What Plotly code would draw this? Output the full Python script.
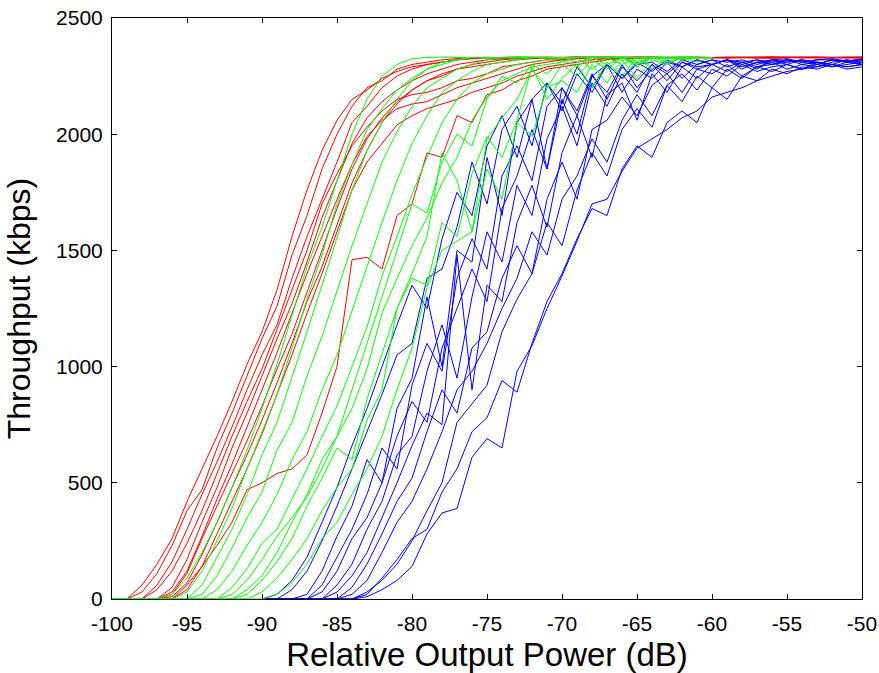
import plotly.graph_objects as go

# ---------------- data ----------------
x_red = [-100, -99, -98, -97, -96, -95, -94, -93, -92, -91,
         -90, -89, -88, -87, -86, -85, -84, -83, -82, -81,
         -80, -79, -78, -77, -76, -75, -74, -73, -72, -71,
         -70, -69, -68, -67, -66, -65, -64, -63, -62, -61,
         -60, -59, -58, -57, -56, -55, -54, -53, -52, -51, -50]

x_green = [-100, -99, -98, -97, -96, -95, -94, -93, -92, -91,
           -90, -89, -88, -87, -86, -85, -84, -83, -82, -81,
           -80, -79, -78, -77, -76, -75, -74, -73, -72, -71,
           -70, -69, -68, -67, -66, -65, -64, -63, -62, -61, -60]

x_blue = [-90, -89, -88, -87, -86, -85, -84, -83, -82, -81,
          -80, -79, -78, -77, -76, -75, -74, -73, -72, -71,
          -70, -69, -68, -67, -66, -65, -64, -63, -62, -61,
          -60, -59, -58, -57, -56, -55, -54, -53, -52, -51, -50]

red_1 = [0, 0, 60, 150, 260, 420, 560, 700, 850, 1010,
         1150, 1330, 1560, 1760, 1930, 2060, 2150, 2190, 2240, 2270,
         2290, 2300, 2310, 2320, 2325, 2330, 2325, 2330, 2330, 2328,
         2330, 2332, 2330, 2328, 2330, 2332, 2330, 2330, 2328, 2330,
         2330, 2332, 2330, 2328, 2330, 2330, 2332, 2330, 2330, 2328, 2330]
red_2 = [0, 0, 30, 110, 230, 380, 470, 650, 800, 960,
         1120, 1260, 1480, 1650, 1850, 2000, 2120, 2200, 2230, 2280,
         2300, 2310, 2320, 2325, 2330, 2328, 2330, 2332, 2330, 2330,
         2328, 2330, 2330, 2332, 2330, 2328, 2330, 2330, 2332, 2330,
         2330, 2328, 2330, 2330, 2332, 2330, 2328, 2330, 2330, 2330, 2332]
red_3 = [0, 0, 0, 60, 160, 300, 450, 590, 740, 900,
         1050, 1180, 1380, 1560, 1720, 1880, 2050, 2120, 2200, 2250,
         2280, 2300, 2310, 2320, 2325, 2330, 2328, 2330, 2330, 2332,
         2330, 2330, 2328, 2330, 2332, 2330, 2330, 2328, 2330, 2330,
         2332, 2330, 2330, 2328, 2330, 2330, 2332, 2330, 2330, 2328, 2330]
red_4 = [0, 0, 0, 40, 120, 240, 380, 540, 700, 850,
         990, 1160, 1330, 1500, 1700, 1830, 1950, 2030, 2100, 2150,
         2170, 2180, 2200, 2230, 2240, 2260, 2290, 2300, 2310, 2320,
         2320, 2325, 2330, 2328, 2330, 2330, 2332, 2330, 2328, 2330,
         2330, 2332, 2330, 2330, 2328, 2330, 2330, 2332, 2330, 2330, 2328]
red_5 = [0, 0, 0, 0, 50, 170, 330, 480, 650, 800,
         960, 1120, 1270, 1450, 1640, 1800, 1960, 2070, 2140, 2190,
         2230, 2260, 2280, 2300, 2310, 2320, 2325, 2330, 2328, 2330,
         2330, 2332, 2330, 2328, 2330, 2330, 2332, 2330, 2330, 2328,
         2330, 2330, 2332, 2330, 2328, 2330, 2330, 2332, 2330, 2330, 2328]
red_6 = [0, 0, 0, 0, 30, 120, 270, 430, 580, 740,
         900, 1060, 1230, 1400, 1560, 1720, 1870, 1990, 2060, 2110,
         2130, 2140, 2170, 2200, 2220, 2240, 2260, 2280, 2300, 2310,
         2320, 2325, 2330, 2328, 2330, 2330, 2332, 2330, 2328, 2330,
         2330, 2332, 2330, 2330, 2328, 2330, 2330, 2332, 2330, 2330, 2330]
red_7 = [0, 0, 0, 0, 20, 110, 260, 400, 540, 680,
         830, 990, 1140, 1320, 1500, 1680, 1850, 1980, 2070, 2140,
         2190, 2230, 2260, 2280, 2300, 2310, 2320, 2325, 2330, 2328,
         2330, 2330, 2332, 2330, 2328, 2330, 2330, 2332, 2330, 2330,
         2328, 2330, 2330, 2332, 2330, 2330, 2328, 2330, 2330, 2332, 2330]
red_8 = [0, 0, 0, 0, 10, 70, 190, 330, 480, 620,
         770, 930, 1100, 1280, 1430, 1610, 1790, 1930, 2050, 2130,
         2190, 2230, 2250, 2280, 2290, 2300, 2310, 2320, 2325, 2330,
         2328, 2330, 2330, 2332, 2330, 2328, 2330, 2330, 2332, 2330,
         2330, 2328, 2330, 2330, 2332, 2330, 2330, 2328, 2330, 2330, 2332]
red_9 = [0, 0, 0, 0, 0, 40, 140, 280, 420, 560,
         710, 880, 1050, 1230, 1400, 1580, 1760, 1880, 1960, 2040,
         2080, 2110, 2130, 2150, 2180, 2200, 2220, 2250, 2270, 2290,
         2300, 2310, 2320, 2325, 2330, 2328, 2330, 2330, 2332, 2330,
         2330, 2328, 2330, 2330, 2332, 2330, 2330, 2328, 2330, 2330, 2330]
red_10 = [0, 0, 0, 0, 0, 60, 140, 230, 330, 470,
          500, 540, 560, 620, 800, 1000, 1460, 1470, 1420, 1650,
          1700, 1920, 1900, 2080, 2050, 2170, 2190, 2230, 2250, 2280,
          2290, 2300, 2310, 2320, 2325, 2330, 2328, 2330, 2330, 2332,
          2330, 2330, 2328, 2330, 2330, 2332, 2330, 2330, 2328, 2330, 2330]

green_1 = [0, 0, 0, 0, 20, 90, 200, 330, 480, 640,
           820, 1010, 1220, 1430, 1600, 1800, 2000, 2150, 2250, 2300,
           2325, 2330, 2332, 2330, 2330, 2328, 2330, 2332, 2330, 2330,
           2328, 2330, 2330, 2332, 2330, 2330, 2328, 2330, 2330, 2332, 2330]
green_2 = [0, 0, 0, 0, 0, 30, 120, 250, 390, 560,
           720, 880, 1080, 1290, 1480, 1700, 1870, 2020, 2110, 2190,
           2240, 2280, 2300, 2320, 2330, 2328, 2330, 2332, 2330, 2330,
           2328, 2330, 2330, 2332, 2330, 2330, 2328, 2330, 2330, 2332, 2330]
green_3 = [0, 0, 0, 0, 0, 0, 60, 180, 300, 450,
           620, 760, 950, 1150, 1350, 1560, 1760, 1930, 2050, 2150,
           2230, 2280, 2310, 2320, 2330, 2330, 2328, 2330, 2332, 2330,
           2330, 2328, 2330, 2330, 2332, 2330, 2330, 2328, 2330, 2330, 2330]
green_4 = [0, 0, 0, 0, 0, 0, 20, 100, 220, 350,
           460, 640, 760, 960, 1130, 1330, 1520, 1700, 1880, 2010,
           2120, 2200, 2240, 2280, 2300, 2320, 2330, 2328, 2330, 2330,
           2332, 2330, 2330, 2328, 2330, 2330, 2332, 2330, 2330, 2328, 2330]
green_5 = [0, 0, 0, 0, 0, 0, 0, 40, 120, 230,
           330, 450, 600, 720, 900, 1050, 1240, 1420, 1620, 1800,
           1960, 2080, 2180, 2230, 2270, 2300, 2310, 2320, 2330, 2328,
           2330, 2330, 2332, 2330, 2300, 2330, 2328, 2330, 2330, 2332, 2330]
green_6 = [0, 0, 0, 0, 0, 0, 0, 0, 50, 130,
           240, 300, 430, 560, 700, 830, 1000, 1170, 1390, 1560,
           1740, 1900, 2050, 2150, 2220, 2260, 2280, 2300, 2310, 2320,
           2330, 2310, 2330, 2332, 2330, 2290, 2330, 2330, 2328, 2330, 2330]
green_7 = [0, 0, 0, 0, 0, 0, 0, 0, 20, 80,
           170, 270, 350, 440, 560, 700, 820, 990, 1230, 1380,
           1520, 1640, 1790, 1900, 2060, 2160, 2230, 2260, 2290, 2300,
           2310, 2330, 2280, 2330, 2330, 2300, 2330, 2332, 2330, 2330, 2330]
green_8 = [0, 0, 0, 0, 0, 0, 0, 0, 0, 20,
           80, 160, 260, 400, 520, 650, 600, 860, 1050, 1250,
           1400, 1560, 1920, 1800, 1580, 1980, 2070, 2150, 2280, 2200,
           2300, 2250, 2320, 2280, 2330, 2300, 2330, 2310, 2330, 2330, 2330]
green_9 = [0, 0, 0, 0, 0, 0, 0, 0, 0, 0,
           30, 90, 170, 260, 380, 480, 560, 770, 900, 1250,
           1380, 1350, 1620, 1560, 1830, 1990, 1900, 2060, 2290, 2150,
           2240, 2300, 2200, 2310, 2250, 2330, 2280, 2330, 2320, 2330, 2330]
green_10 = [0, 0, 0, 0, 0, 0, 0, 0, 0, 0,
            0, 20, 70, 150, 260, 330, 450, 560, 700, 900,
            1080, 1340, 1500, 1540, 1580, 1850, 1720, 2050, 1990, 2200,
            2230, 2180, 2300, 2220, 2320, 2240, 2320, 2300, 2330, 2310, 2330]
green_11 = [0, 0, 0, 0, 0, 0, 0, 0, 0, 40,
            100, 200, 330, 450, 600, 700, 900, 1100, 1300, 1500,
            1700, 1660, 1880, 2000, 1950, 2150, 2250, 2220, 2300, 2260,
            2320, 2290, 2330, 2300, 2330, 2310, 2330, 2330, 2330, 2330, 2330]

blue_1 = [0, 20, 80, 180, 330, 480, 660, 820, 1000, 1180,
          1350, 1250, 1550, 1750, 1650, 1950, 2080, 1900, 2150, 2220,
          2100, 2260, 2180, 2300, 2240, 2310, 2270, 2320, 2290, 2320,
          2300, 2320, 2300, 2320, 2310, 2320, 2310, 2320, 2325, 2315, 2320]
blue_2 = [0, 0, 40, 120, 250, 400, 560, 720, 880, 1050,
          1100, 1380, 1420, 1600, 1880, 1700, 2020, 2120, 1950, 2220,
          2130, 2290, 2200, 2300, 2240, 2300, 2310, 2270, 2320, 2300,
          2320, 2310, 2320, 2300, 2320, 2325, 2310, 2320, 2320, 2315, 2325]
blue_3 = [0, 0, 0, 20, 120, 270, 400, 600, 500, 820,
          950, 1300, 1000, 1500, 1450, 1900, 1650, 2050, 2150, 1850,
          2200, 2080, 2250, 2300, 2180, 2280, 2240, 2310, 2290, 2320,
          2300, 2320, 2310, 2280, 2320, 2310, 2320, 2300, 2320, 2310, 2320]
blue_4 = [0, 0, 0, 0, 60, 180, 300, 450, 650, 560,
          920, 1100, 980, 1380, 1550, 1420, 1820, 1950, 1800, 2120,
          2200, 2100, 2260, 2150, 2290, 2230, 2300, 2260, 2310, 2290,
          2300, 2320, 2290, 2310, 2320, 2300, 2320, 2310, 2300, 2320, 2310]
blue_5 = [0, 0, 0, 0, 30, 120, 260, 350, 500, 700,
          850, 760, 1080, 1250, 1420, 1280, 1680, 1820, 2020, 1850,
          2150, 2000, 2250, 2180, 2300, 2200, 2280, 2310, 2240, 2300,
          2320, 2290, 2310, 2320, 2300, 2310, 2320, 2300, 2320, 2310, 2320]
blue_6 = [0, 0, 0, 0, 0, 60, 150, 300, 420, 620,
          700, 980, 1180, 950, 1300, 1580, 1450, 1780, 1650, 1980,
          2120, 1950, 2220, 2120, 2260, 2180, 2300, 2230, 2310, 2280,
          2300, 2320, 2280, 2310, 2300, 2320, 2310, 2300, 2320, 2310, 2300]
blue_7 = [0, 0, 0, 0, 0, 30, 100, 200, 350, 500,
          660, 800, 750, 1480, 900, 1350, 1280, 1620, 1780, 1600,
          1920, 2080, 1900, 2170, 2220, 2060, 2260, 2180, 2290, 2240,
          2300, 2270, 2310, 2290, 2300, 2320, 2300, 2290, 2310, 2320, 2300]
blue_8 = [0, 0, 0, 0, 0, 0, 50, 150, 280, 420,
          520, 720, 900, 800, 1080, 1150, 1380, 1520, 1400, 1720,
          1880, 1720, 2020, 2060, 2160, 2080, 2210, 2260, 2180, 2280,
          2260, 2300, 2250, 2290, 2310, 2280, 2300, 2310, 2290, 2300, 2310]
blue_9 = [0, 0, 0, 0, 0, 0, 20, 80, 200, 330,
          420, 560, 720, 900, 980, 1100, 1250, 1380, 1580, 1480,
          1720, 1820, 1980, 1880, 2060, 2170, 2080, 2210, 2260, 2190,
          2280, 2250, 2300, 2270, 2290, 2300, 2280, 2310, 2300, 2290, 2300]
blue_10 = [0, 0, 0, 0, 0, 0, 0, 30, 80, 150,
           250, 380, 500, 760, 840, 920, 1150, 1290, 1400, 1620,
           1520, 1760, 1920, 1820, 2020, 2110, 2030, 2210, 2140, 2250,
           2200, 2280, 2240, 2290, 2270, 2300, 2280, 2300, 2290, 2310, 2300]
blue_11 = [0, 0, 0, 0, 0, 0, 0, 20, 90, 170,
           260, 300, 460, 560, 720, 780, 940, 890, 1100, 1280,
           1400, 1550, 1680, 1650, 1850, 1950, 1900, 2050, 2100, 2050,
           2200, 2150, 2250, 2230, 2280, 2260, 2290, 2280, 2300, 2290, 2300]
blue_12 = [0, 0, 0, 0, 0, 0, 0, 10, 40, 80,
           140, 280, 370, 390, 610, 690, 650, 980, 1090, 1250,
           1390, 1540, 1700, 1720, 1840, 1940, 1980, 2020, 2070, 2100,
           2160, 2180, 2200, 2230, 2250, 2270, 2280, 2290, 2300, 2280, 2290]

red_series = [red_1, red_2, red_3, red_4, red_5, red_6, red_7, red_8, red_9, red_10]
green_series = [green_1, green_2, green_3, green_4, green_5, green_6,
                green_7, green_8, green_9, green_10, green_11]
blue_series = [blue_1, blue_2, blue_3, blue_4, blue_5, blue_6,
               blue_7, blue_8, blue_9, blue_10, blue_11, blue_12]

x_ticks = [-100, -95, -90, -85, -80, -75, -70, -65, -60, -55, -50]
x_tick_labels = ["-100", "-95", "-90", "-85", "-80", "-75", "-70", "-65", "-60", "-55", "-50"]
y_ticks = [0, 500, 1000, 1500, 2000, 2500]
y_tick_labels = ["0", "500", "1000", "1500", "2000", "2500"]

# ---------------- figure ----------------
fig = go.Figure()
for ys in blue_series:
    fig.add_trace(go.Scatter(x=x_blue, y=ys, mode="lines",
                             line=dict(color="#0000FF", width=1), showlegend=False))
for ys in red_series:
    fig.add_trace(go.Scatter(x=x_red, y=ys, mode="lines",
                             line=dict(color="#FF0000", width=1), showlegend=False))
for ys in green_series:
    fig.add_trace(go.Scatter(x=x_green, y=ys, mode="lines",
                             line=dict(color="#00FF00", width=1), showlegend=False))

font_family = "Liberation Sans, Arial, sans-serif"
axis_common = dict(showline=True, linecolor="black", linewidth=1, mirror="ticks",
                   ticks="inside", ticklen=5, tickcolor="black", tickwidth=1,
                   showgrid=False, zeroline=False, automargin=False,
                   tickfont=dict(family=font_family, size=21, color="black"))

fig.update_layout(
    width=879, height=673,
    margin=dict(l=112, r=17, t=18, b=74),
    paper_bgcolor="white", plot_bgcolor="white",
    xaxis=dict(range=[-100, -50], tickvals=x_ticks, ticktext=x_tick_labels,
               ticklabelstandoff=6,
               title=dict(text="Relative Output Power (dB)",
                          font=dict(family=font_family, size=33, color="black")),
               **axis_common),
    yaxis=dict(range=[0, 2500], tickvals=y_ticks, ticktext=y_tick_labels,
               ticklabelstandoff=4,
               title=dict(text="Throughput (kbps)",
                          font=dict(family=font_family, size=32, color="black")),
               **axis_common),
)

fig.write_html("out.html")
